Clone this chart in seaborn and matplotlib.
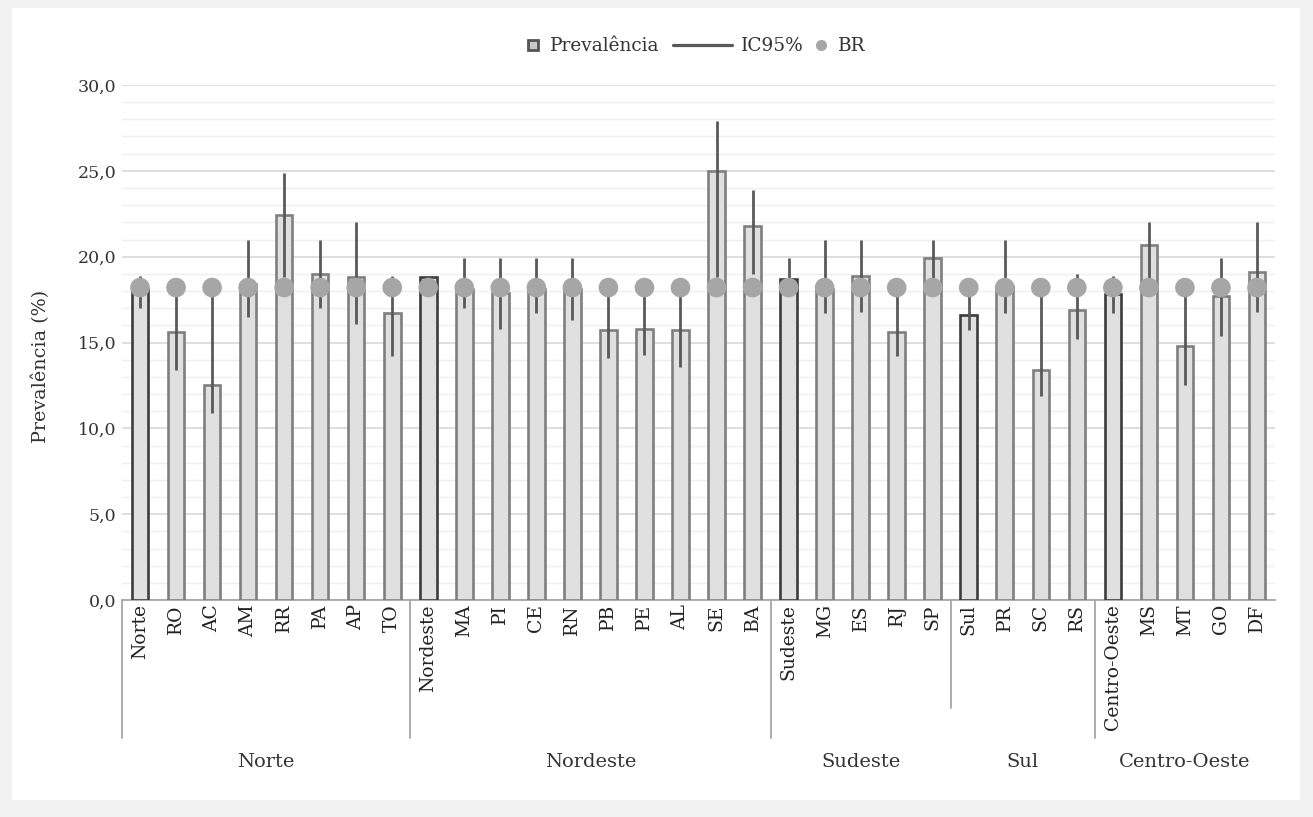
import numpy as np
import pandas as pd
import matplotlib
matplotlib.use("Agg")
import matplotlib.pyplot as plt
import matplotlib.transforms as mtransforms
from matplotlib.lines import Line2D
from matplotlib.patches import Rectangle
import seaborn as sns

# ---------------- data ----------------
categories = ["Norte", "RO", "AC", "AM", "RR", "PA", "AP", "TO",
              "Nordeste", "MA", "PI", "CE", "RN", "PB", "PE", "AL", "SE", "BA",
              "Sudeste", "MG", "ES", "RJ", "SP",
              "Sul", "PR", "SC", "RS",
              "Centro-Oeste", "MS", "MT", "GO", "DF"]
regions = ["Norte"] * 8 + ["Nordeste"] * 10 + ["Sudeste"] * 5 + ["Sul"] * 4 + ["Centro-Oeste"] * 5
region_names = ["Norte", "Nordeste", "Sudeste", "Sul", "Centro-Oeste"]
totals = ["Norte", "Nordeste", "Sudeste", "Sul", "Centro-Oeste"]

prevalencia = [18.1, 15.6, 12.5, 18.4, 22.4, 19.0, 18.8, 16.7,
               18.8, 18.1, 17.9, 18.1, 18.1, 15.7, 15.8, 15.7, 25.0, 21.8,
               18.7, 18.1, 18.9, 15.6, 19.9,
               16.6, 18.3, 13.4, 16.9,
               17.8, 20.7, 14.8, 17.7, 19.1]
ic_low = [17.0, 13.4, 10.9, 16.5, 18.8, 17.0, 16.1, 14.2,
          18.2, 17.0, 15.8, 16.7, 16.3, 14.1, 14.3, 13.6, 18.8, 19.0,
          18.1, 16.7, 16.8, 14.2, 18.1,
          15.7, 16.7, 11.9, 15.2,
          16.7, 18.7, 12.5, 15.4, 16.8]
ic_high = [18.9, 18.1, 18.1, 21.0, 24.9, 21.0, 22.0, 18.9,
           18.9, 19.9, 19.9, 19.9, 19.9, 18.2, 18.2, 18.2, 27.9, 23.9,
           19.9, 21.0, 21.0, 18.2, 21.0,
           18.1, 21.0, 18.2, 19.0,
           18.9, 22.0, 18.2, 19.9, 22.0]
br = [18.2, 18.2, 18.2, 18.2, 18.2, 18.2, 18.2, 18.2,
      18.2, 18.2, 18.2, 18.2, 18.2, 18.2, 18.2, 18.2, 18.2, 18.2,
      18.2, 18.2, 18.2, 18.2, 18.2,
      18.2, 18.2, 18.2, 18.2,
      18.2, 18.2, 18.2, 18.2, 18.2]
y_ticks = [0, 5, 10, 15, 20, 25, 30]
y_tick_labels = ["0,0", "5,0", "10,0", "15,0", "20,0", "25,0", "30,0"]

df = pd.DataFrame({"uf": categories, "regiao": regions, "prev": prevalencia,
                   "lo": ic_low, "hi": ic_high, "br": br})

# ---------------- style ----------------
sns.set_theme(style="white")
plt.rcParams["font.family"] = ["DejaVu Serif", "DejaVu Sans"]

W, H = 1313, 817
fig = plt.figure(figsize=(W / 100, H / 100), dpi=100)
fig.patch.set_facecolor("#f2f2f2")
fig.patches.append(Rectangle((12 / W, 1 - 800 / H), (1300 - 12) / W, (800 - 8) / H,
                             transform=fig.transFigure, facecolor="white",
                             edgecolor="none", zorder=-10))

ax_l, ax_r, ax_t, ax_b = 122, 1275, 85, 600
ax = fig.add_axes([ax_l / W, 1 - ax_b / H, (ax_r - ax_l) / W, (ax_b - ax_t) / H])
ax.set_zorder(1)
ax.set_facecolor("none")

FILL = "#e0e0e0"
EDGE = "#7f7f7f"
EDGE_TOT = "#3c3c3c"
ERR = "#595959"
DOT = "#a6a6a6"

sns.barplot(data=df, x="uf", y="prev", order=categories, color=FILL,
            width=0.46, linewidth=1.9, edgecolor=EDGE, saturation=1,
            errorbar=None, ax=ax, zorder=3)
for patch, cat in zip(ax.patches, categories):
    patch.set_facecolor(FILL)
    if cat in totals:
        patch.set_edgecolor(EDGE_TOT)

xpos = np.arange(len(categories))
ax.vlines(xpos, df["lo"], df["hi"], color=ERR, linewidth=2.0, zorder=4)
sns.scatterplot(x=xpos, y=df["br"], s=200, color=DOT, edgecolor="none",
                ax=ax, zorder=5, legend=False)

ax.set_xlim(-0.5, len(categories) - 0.5)
ax.set_ylim(0, 30)
ax.set_yticks(y_ticks)
ax.set_yticklabels(y_tick_labels, fontsize=12.5, color="#333333")
ax.set_yticks(np.arange(0, 31, 1), minor=True)
ax.grid(axis="y", which="major", color="#d4d4d4", linewidth=1.1, zorder=0)
ax.grid(axis="y", which="minor", color="#efefef", linewidth=1.0, zorder=0)
ax.set_axisbelow(True)
ax.tick_params(axis="y", which="both", length=0, pad=4)
ax.tick_params(axis="x", length=0, pad=3)

ax.set_xticks(xpos)
ax.set_xticklabels(categories, rotation=90, fontsize=13.5, color="#222222",
                   va="top", ha="center")
ax.set_xlabel("")
ax.set_ylabel("Prevalência (%)", fontsize=13.8, color="#333333")
ax.yaxis.set_label_coords(-(ax_l - 50) / (ax_r - ax_l), (ax_b - 366) / (ax_b - ax_t))

for side in ["top", "right", "left"]:
    ax.spines[side].set_visible(False)
ax.spines["bottom"].set_color("#a6a6a6")
ax.spines["bottom"].set_linewidth(1.3)

# group separators and labels
trans = mtransforms.blended_transform_factory(ax.transData, ax.transAxes)
axh = ax_b - ax_t
starts = [0, 8, 18, 23, 27]
ends = [8, 18, 23, 27, 32]
sep_len = [738, 738, 738, 708, 738]
for s, L in zip(starts, sep_len):
    ax.plot([s - 0.5, s - 0.5], [0, -(L - ax_b) / axh], transform=trans,
            color="#a6a6a6", linewidth=1.3, clip_on=False)
for name, s, e in zip(region_names, starts, ends):
    ax.text((s + e - 1) / 2, -(762 - ax_b) / axh, name, transform=trans,
            ha="center", va="center", fontsize=14, color="#333333")

# legend (three single-entry legends so each handle gets its own length)
leg_y = 1 - 46 / H
entries = [
    (Line2D([0], [0], marker="s", linestyle="none", markersize=7,
            markerfacecolor="#c8c8c8", markeredgecolor="#555555", markeredgewidth=2),
     "Prevalência", 526, 0.8),
    (Line2D([0], [0], color=ERR, linewidth=2.3), "IC95%", 673, 3.2),
    (Line2D([0], [0], marker="o", linestyle="none", markersize=8,
            markerfacecolor=DOT, markeredgecolor="none"), "BR", 814, 0.8),
]
for handle, label, xpx, hl in entries:
    lg = fig.legend([handle], [label], loc="center left",
                    bbox_to_anchor=(xpx / W, leg_y), frameon=False,
                    fontsize=13.3, handlelength=hl, handletextpad=0.5,
                    borderpad=0, borderaxespad=0, labelcolor="#333333")

fig.savefig("out.png", dpi=100, facecolor=fig.get_facecolor())
